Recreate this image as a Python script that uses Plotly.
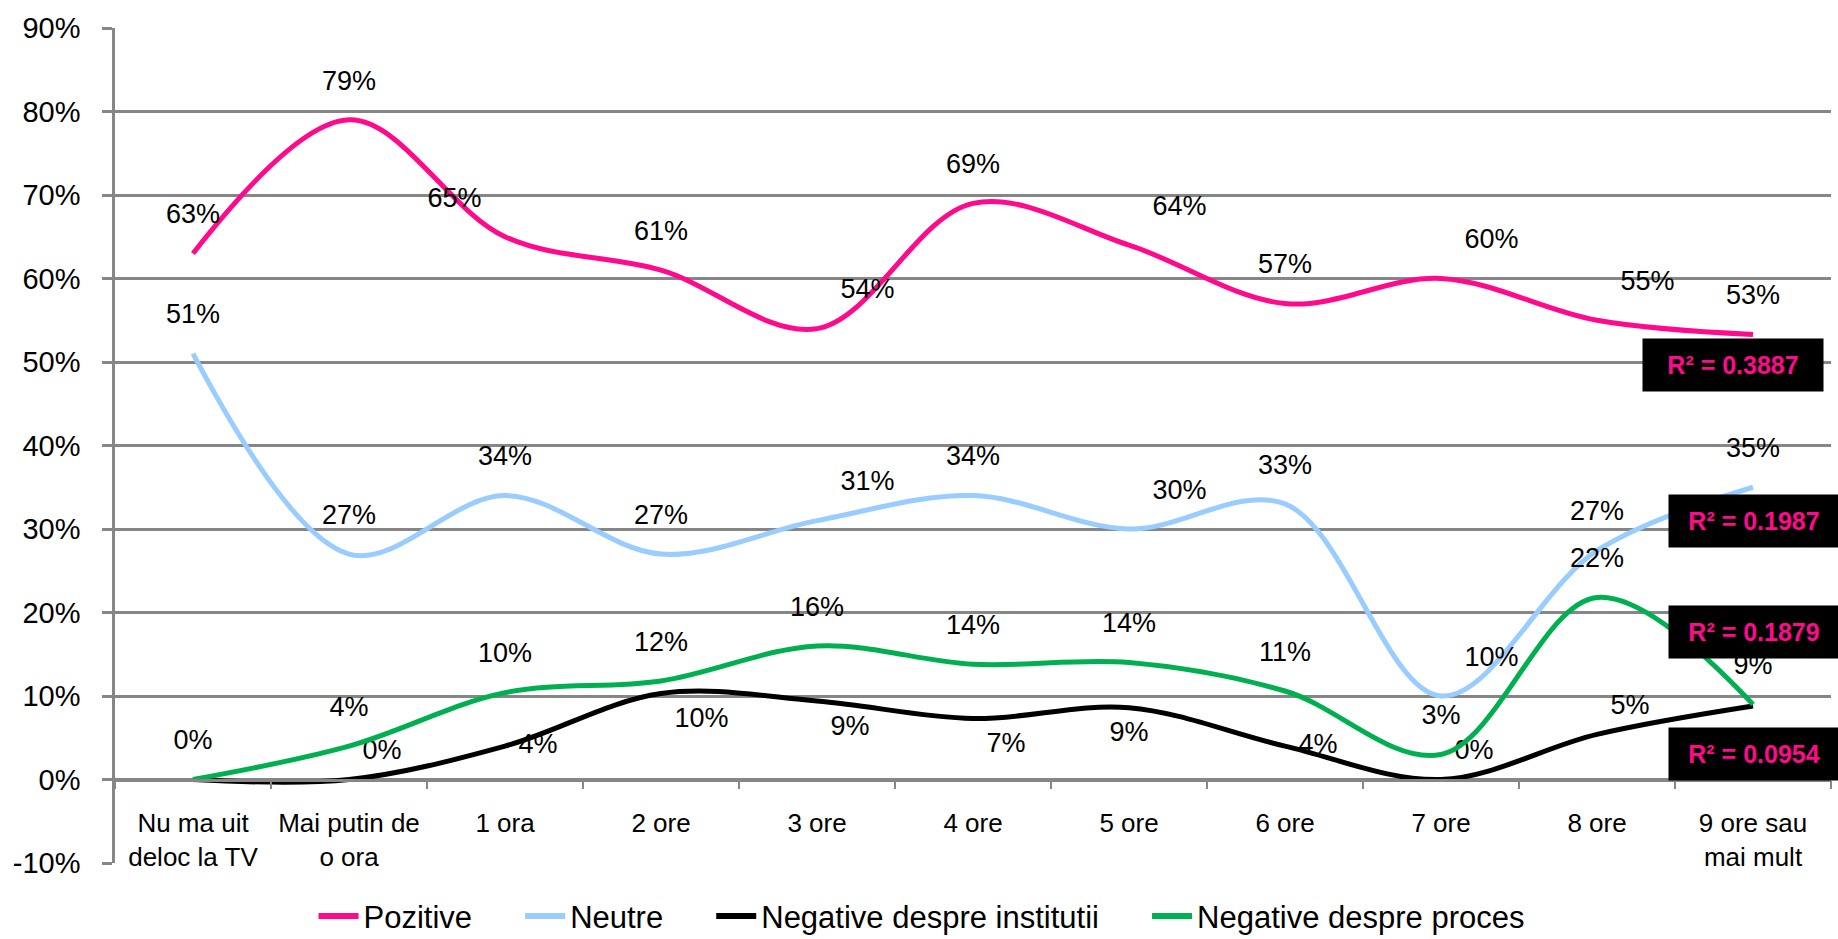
import plotly.graph_objects as go

categories = ["Nu ma uit<br>deloc la TV", "Mai putin de<br>o ora", "1 ora", "2 ore", "3 ore",
              "4 ore", "5 ore", "6 ore", "7 ore", "8 ore", "9 ore sau<br>mai mult"]

pozitive = [0.63, 0.79, 0.65, 0.61, 0.54, 0.69, 0.64, 0.57, 0.60, 0.55, 0.533]
neutre = [0.51, 0.27, 0.34, 0.27, 0.31, 0.34, 0.30, 0.33, 0.10, 0.274, 0.35]
neg_institutii = [0.0, 0.0, 0.04, 0.103, 0.094, 0.073, 0.086, 0.04, 0.0, 0.054, 0.088]
neg_proces = [0.0, 0.04, 0.104, 0.118, 0.16, 0.138, 0.14, 0.106, 0.03, 0.218, 0.09]

y_tickvals = [-0.1, 0.0, 0.1, 0.2, 0.3, 0.4, 0.5, 0.6, 0.7, 0.8, 0.9]
y_ticktext = ["-10%", "0%", "10%", "20%", "30%", "40%", "50%", "60%", "70%", "80%", "90%"]

r2_labels = ["R² = 0.3887", "R² = 0.1987", "R² = 0.1879", "R² = 0.0954"]

series_names = ["Pozitive", "Neutre", "Negative despre institutii", "Negative despre proces"]
colors = ["#FF0A8C", "#99CCFF", "#000000", "#00B050"]

# label placement (style)
pos_poz = ["top center", "top center", "top left", "top center", "top right", "top center",
           "top right", "top center", "top right", "top right", "top center"]
pos_neu = ["top center", "top center", "top center", "top center", "top right", "top center",
           "top right", "top center", "top right", "top center", "top center"]
pos_ins = ["top right", "top right", "middle right", "bottom right", "bottom right", "bottom right",
           "bottom center", "middle right", "top right", "top right", "bottom right"]
pos_pro = ["top center"] * 11
hide_ins = [0, 10]
label_gap = [36, 36, 20, 36]   # invisible marker size used as label offset

def labels(vals, hide=()):
    return ["" if i in hide else f"{round(v*100):.0f}%" for i, v in enumerate(vals)]

fig = go.Figure()
all_vals = [pozitive, neutre, neg_institutii, neg_proces]
all_pos = [pos_poz, pos_neu, pos_ins, pos_pro]
hides = [(), (), hide_ins, ()]
nbsp = "\u00a0" * 5
for k, (name, vals, col, pos, hd) in enumerate(zip(series_names, all_vals, colors, all_pos, hides)):
    fig.add_trace(go.Scatter(
        x=categories, y=vals, name=name, mode="lines+markers+text", showlegend=False,
        line=dict(color=col, width=5, shape="spline", smoothing=1.0),
        marker=dict(size=label_gap[k], opacity=0, color=col),
        text=labels(vals, hd), textposition=pos,
        textfont=dict(family="Liberation Sans, Arial", size=27, color="black"),
        cliponaxis=False, hoverinfo="skip"))
# legend entries
for k, (name, col) in enumerate(zip(series_names, colors)):
    fig.add_trace(go.Scatter(
        x=[None], y=[None], name=name + (nbsp if k < 3 else ""), mode="lines",
        line=dict(color=col, width=6), showlegend=True, hoverinfo="skip"))

# R² boxes
r2_y = [0.496, 0.309, 0.177, 0.031]
r2_x = [(1642 - 115) / 1716] + [(1668 - 115) / 1716] * 3
r2_w = [180, 170, 170, 170]
for lab, yy, xx, ww in zip(r2_labels, r2_y, r2_x, r2_w):
    fig.add_annotation(text=f"<b>{lab}</b>", xref="paper", yref="y", x=xx, y=yy,
                       xanchor="left", yanchor="middle", showarrow=False,
                       width=ww, height=52, borderpad=0, bgcolor="black",
                       font=dict(family="Liberation Sans, Arial", size=25, color="#FF0A8C"))

grid = "#868686"
fig.update_layout(
    width=1838, height=939,
    margin=dict(l=115, r=7, t=28, b=76, autoexpand=False),
    paper_bgcolor="white", plot_bgcolor="white",
    font=dict(family="Liberation Sans, Arial", color="black"),
    showlegend=True,
    legend=dict(orientation="h", x=0.47, xanchor="center", y=-0.064, yanchor="middle",
                font=dict(size=31), itemwidth=40, traceorder="normal"),
    xaxis=dict(type="category", range=[-0.5, 10.5], anchor="free", position=0.1,
               showline=True, linecolor=grid, linewidth=2.5,
               ticks="outside", tickson="boundaries", ticklen=8, tickcolor=grid, tickwidth=2,
               showgrid=False, tickfont=dict(size=26), ticklabelstandoff=20),
    yaxis=dict(range=[-0.1, 0.9], tickvals=y_tickvals, ticktext=y_ticktext,
               showgrid=True, gridcolor=grid, gridwidth=2.5,
               showline=True, linecolor=grid, linewidth=2.5, zeroline=False,
               ticks="outside", ticklen=10, tickcolor=grid, tickwidth=2.5,
               tickfont=dict(size=29), ticklabelstandoff=16),
)

fig.write_html("out.html", config={"displayModeBar": False},
               post_script="document.body.style.margin='0';document.body.style.overflow='hidden';")
